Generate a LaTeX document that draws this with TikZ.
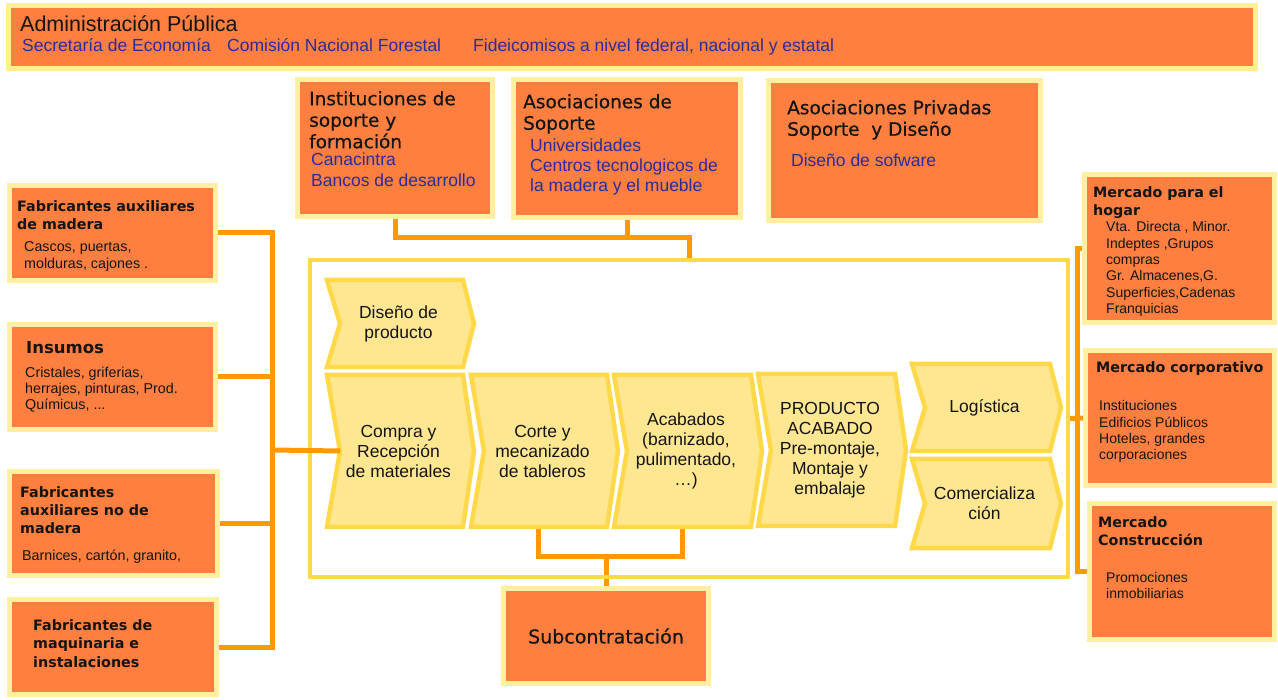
\documentclass[tikz,border=0pt]{standalone}
\usepackage{fontspec}
\setmainfont{Liberation Sans}
\newfontfamily\vera{DejaVu Sans}
\newfontfamily\veramed[FakeBold=0.5]{DejaVu Sans}

\definecolor{boxfill}{HTML}{FF7F40}
\definecolor{boxrim}{HTML}{FFEFA0}
\definecolor{barrim}{HTML}{FFF28A}
\definecolor{linkorange}{HTML}{FF9900}
\definecolor{chevfill}{HTML}{FFE792}
\definecolor{chevrim}{HTML}{FFD94A}
\definecolor{inkblue}{HTML}{2B2B9E}
\definecolor{ink}{HTML}{141414}

\pgfdeclarelayer{links}
\pgfsetlayers{links,main}

% orange box with a pale rim, given by its outer edges: name, x1, y1, x2, y2
\newcommand{\orgbox}[6][]{%
  \node[box,#1,minimum width=#5-#3-5,minimum height=#6-#4-5] (#2) at (#3+2.5,#4+2.5) {};}

% value-chain chevron: name, left x, top y, width, height, label
\newcommand{\valuechev}[6]{%
  \draw[chevron] (#2,#3) -- (#2+#4-11,#3) -- (#2+#4,#3+#5/2) -- (#2+#4-11,#3+#5)
     -- (#2,#3+#5) -- (#2+13,#3+#5/2) -- cycle;
  \coordinate (#1-in) at (#2+13,#3+#5/2);
  \coordinate (#1-s) at (#2+#4/2,#3+#5);
  \node[chevtext] (#1) at (#2+#4/2-2,#3+#5/2) {#6};}

\begin{document}
\begin{tikzpicture}[x=1pt,y=-1pt,
  box/.style={draw=boxrim, fill=boxfill, line width=5pt, inner sep=0pt, outer sep=0pt, anchor=north west},
  link/.style={draw=linkorange, line width=5pt},
  chevron/.style={draw=chevrim, fill=chevfill, line width=4.5pt, line join=miter},
  chevtext/.style={align=center, inner sep=0pt, text=ink, font=\fontsize{17.5}{20}\selectfont},
  bartitle/.style={anchor=base west, inner sep=0pt, text=ink, font=\fontsize{21.5}{25}\selectfont},
  barnote/.style={anchor=base west, inner sep=0pt, text=inkblue, font=\fontsize{17.5}{21}\selectfont},
  toptitle/.style={anchor=north west, inner sep=0pt, align=left, text=ink, font=\veramed\fontsize{18.5}{21.5}\selectfont},
  topnote/.style={anchor=north west, inner sep=0pt, align=left, text=inkblue, font=\fontsize{17.5}{21}\selectfont},
  sidetitle/.style={anchor=north west, inner sep=0pt, align=left, text=ink, font=\vera\bfseries\fontsize{14.3}{18}\selectfont},
  sidenote/.style={anchor=north west, inner sep=0pt, align=left, text=ink, font=\fontsize{14}{16.4}\selectfont}]

\useasboundingbox (0,0) rectangle (1278,700);

% public administration bar
\orgbox[draw=barrim]{admin}{6}{3}{1258}{71}
\node[bartitle] (admin-t) at (20,32) {Administración Pública};
\node[barnote] (admin-a) at (22,52) {Secretaría de Economía};
\node[barnote] (admin-b) at (227,52) {Comisión Nacional Forestal};
\node[barnote] (admin-c) at (473,52) {Fideicomisos a nivel federal, nacional y estatal};

% support institutions
\orgbox{inst}{295}{77}{495}{219}
\node[toptitle] (inst-t) at (309,90) {\strut Instituciones de\\soporte y\\formación};
\node[topnote] (inst-n) at (311,150.3) {\strut Canacintra\\Bancos de desarrollo};

\orgbox{asoc}{511}{77}{743}{220}
\node[toptitle] (asoc-t) at (523,93) {\strut Asociaciones de\\Soporte};
\node[topnote, font=\fontsize{17.5}{20}\selectfont] (asoc-n) at (530,137) {\strut Universidades\\Centros tecnologicos de\\la madera y el mueble};

\orgbox{priv}{766}{78}{1043}{223}
\node[toptitle] (priv-t) at (787,99) {\strut Asociaciones Privadas\\Soporte\ \ y Diseño};
\node[topnote, anchor=base west] (priv-n) at (791,167) {Diseño de sofware};

% suppliers
\orgbox{fab1}{7}{183}{218}{283}
\node[sidetitle] (fab1-t) at (17,198.4) {\strut Fabricantes auxiliares\\de madera};
\node[sidenote, font=\fontsize{14.3}{17}\selectfont] (fab1-n) at (24,239.1) {\strut Cascos, puertas,\\molduras, cajones .};

\orgbox{insumos}{7}{322}{218}{432}
\node[sidetitle, anchor=base west, font=\vera\bfseries\fontsize{16.5}{20}\selectfont] (insumos-t) at (26,354) {Insumos};
\node[sidenote, font=\fontsize{14.3}{16.3}\selectfont] (insumos-n) at (25,365.6) {\strut Cristales, griferias,\\herrajes, pinturas, Prod.\\Químicus, ...};

\orgbox{fab3}{7}{469}{220}{578}
\node[sidetitle] (fab3-t) at (20,484.4) {\strut Fabricantes\\auxiliares no de\\madera};
\node[sidenote, anchor=base west, font=\fontsize{14.3}{17}\selectfont] (fab3-n) at (22,560) {Barnices, cartón, granito,};

\orgbox{fab4}{7}{597}{219}{697}
\node[sidetitle, font=\vera\bfseries\fontsize{14.3}{18.5}\selectfont] (fab4-t) at (33,617) {\strut Fabricantes de\\maquinaria e\\instalaciones};

% markets
\orgbox{hogar}{1082}{172}{1277}{325}
\node[sidetitle] (hogar-t) at (1093,184.4) {\strut Mercado para el\\hogar};
\node[sidenote] (hogar-n) at (1106,220) {\strut Vta. Directa , Minor.\\Indeptes ,Grupos\\compras\\Gr. Almacenes,G.\\Superficies,Cadenas\\Franquicias};

\orgbox{corp}{1083}{348}{1277}{488}
\node[sidetitle, anchor=base west] (corp-t) at (1096,373) {Mercado corporativo};
\node[sidenote, font=\fontsize{14}{16.3}\selectfont] (corp-n) at (1099,399.1) {\strut Instituciones\\Edificios Públicos\\Hoteles, grandes\\corporaciones};

\orgbox{constr}{1087}{501}{1277}{642}
\node[sidetitle] (constr-t) at (1098,514.4) {\strut Mercado\\Construcción};
\node[sidenote, font=\fontsize{14}{16}\selectfont] (constr-n) at (1106,570.8) {\strut Promociones\\inmobiliarias};

% subcontracting
\node[box, anchor=center, minimum width=205, minimum height=95, text=ink,
      font=\veramed\fontsize{19}{22}\selectfont] (subc) at (606,636) {Subcontratación};

% value chain frame and stages
\node[draw=chevrim, line width=4pt, inner sep=0pt, outer sep=0pt, anchor=north west,
      minimum width=758, minimum height=317] (frame) at (310,260) {};

\valuechev{diseno}{327}{280}{147}{87}{Diseño de\\producto}
\valuechev{compra}{327}{375}{147}{152}{Compra y\\Recepción\\de materiales}
\valuechev{corte}{471}{375}{147}{152}{Corte y\\mecanizado\\de tableros}
\valuechev{acabados}{614}{375}{148}{152}{Acabados\\(barnizado,\\pulimentado,\\…)}
\valuechev{producto}{758}{374}{148}{152}{PRODUCTO\\ACABADO\\Pre-montaje,\\Montaje y\\embalaje}
\valuechev{logistica}{912}{364}{149}{87}{Logística}
\valuechev{comercial}{912}{459}{149}{89}{Comercializa\\ción}

% connectors, kept underneath the boxes
\coordinate (topjoin) at (689,238);
\coordinate (ltrunk) at (272,450);
\coordinate (rtrunk) at (1077,418);
\coordinate (subjoin) at (606,556);
\begin{pgfonlayer}{links}
  \draw[link] (inst.south) |- (topjoin) -- (frame.north);
  \draw[link] (asoc.south) -- (asoc.south |- topjoin);
  \draw[link] (fab1.east) -| (ltrunk);
  \draw[link] (insumos.east) -| (ltrunk);
  \draw[link] (fab3.east) -| (ltrunk);
  \draw[link] (fab4.east) -| (ltrunk);
  \draw[link] (hogar.west) -| (rtrunk);
  \draw[link] (constr.west) -| (rtrunk);
  \draw[link] (frame.east) -- (corp.west);
  \draw[link] ([xshift=-6pt]corte-s) |- (subjoin);
  \draw[link] ([xshift=-6pt]acabados-s) |- (subjoin);
  \draw[link] (subjoin) -- (subc.north);
\end{pgfonlayer}
% the supply line runs over the frame edge into the first stage
\draw[link] (ltrunk) -- (compra-in);
\end{tikzpicture}
\end{document}
